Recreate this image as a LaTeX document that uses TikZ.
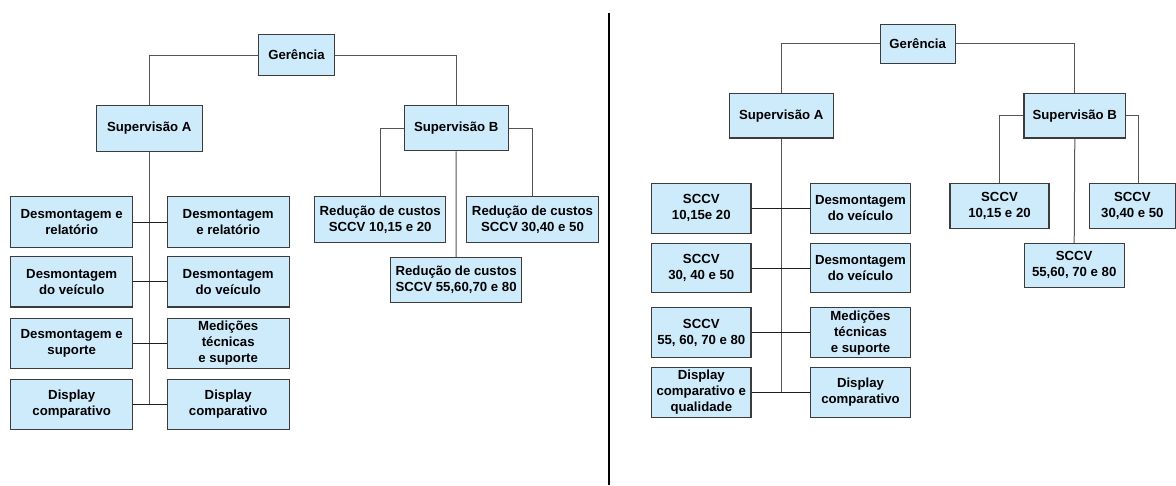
\documentclass[tikz,border=0pt]{standalone}
\usepackage{fontspec}
\setmainfont{Liberation Sans}
\definecolor{boxfill}{RGB}{206,235,251}
\definecolor{boxline}{RGB}{60,60,60}
\definecolor{treeline}{RGB}{85,85,85}
\definecolor{rowline}{RGB}{30,30,30}
\tikzset{
  orgbox/.style={draw=boxline, fill=boxfill, line width=1.1pt, inner sep=0pt,
    align=center, font=\fontsize{13.2}{16}\selectfont\bfseries},
  tree/.style={draw=treeline, line width=1pt},
  rowconn/.style={draw=rowline, line width=1pt},
  divider/.style={draw=black, line width=2pt}
}
\begin{document}
\begin{tikzpicture}[x=1pt, y=-1pt]
\useasboundingbox (0,0) rectangle (1176,485);

% ---------------- left chart ----------------
\node[orgbox, minimum width=75.6pt, minimum height=40.6pt] (gerL) at (296.5,55) {Gerência};
\node[orgbox, minimum width=106.3pt, minimum height=45.6pt] (supAL) at (149.2,128.5) {Supervisão A};
\node[orgbox, minimum width=104.3pt, minimum height=45.4pt] (supBL) at (456.2,128) {Supervisão B};

\node[orgbox, minimum width=121.7pt, minimum height=50.6pt] (l1) at (71.7,222) {Desmontagem e\\relatório};
\node[orgbox, minimum width=121.7pt, minimum height=50.6pt] (r1) at (228.2,222) {Desmontagem\\e relatório};
\node[orgbox, minimum width=121.7pt, minimum height=50.3pt] (l2) at (71.7,281.8) {Desmontagem\\do veículo};
\node[orgbox, minimum width=121.7pt, minimum height=50.3pt] (r2) at (228.2,281.8) {Desmontagem\\do veículo};
\node[orgbox, minimum width=121.7pt, minimum height=50.4pt] (l3) at (71.7,343.5) {Desmontagem e\\suporte};
\node[orgbox, minimum width=121.7pt, minimum height=50.4pt] (r3) at (228.2,343.5) {Medições\\técnicas\\e suporte};
\node[orgbox, minimum width=121.7pt, minimum height=50.3pt] (l4) at (71.7,404.2) {Display\\comparativo};
\node[orgbox, minimum width=121.7pt, minimum height=50.3pt] (r4) at (228.2,404.2) {Display\\comparativo};

\node[orgbox, minimum width=131pt, minimum height=45.6pt] (redL1) at (380.2,219.5) {Redução de custos\\SCCV 10,15 e 20};
\node[orgbox, minimum width=131.6pt, minimum height=45.6pt] (redL2) at (532.5,219.5) {Redução de custos\\SCCV 30,40 e 50};
\node[orgbox, minimum width=131.2pt, minimum height=45.2pt] (redL3) at (456.1,280.1) {Redução de custos\\SCCV 55,60,70 e 80};

\draw[tree] (gerL.west) -| (supAL.north);
\draw[tree] (gerL.east) -| (supBL.north);
\draw[tree] (supBL.west) -| (redL1.north);
\draw[tree] (supBL.east) -| (redL2.north);
\draw[tree] (supBL.south) -- (redL3.north);
\draw[tree] (supAL.south) -- (supAL.south |- l4.east);
\draw[rowconn] (l1.east) -- (r1.west);
\draw[rowconn] (l2.east) -- (r2.west);
\draw[rowconn] (l3.east) -- (r3.west);
\draw[rowconn] (l4.east) -- (r4.west);

% ---------------- divider ----------------
\draw[divider] (608.8,12.7) -- (608.8,485);

% ---------------- right chart ----------------
\node[orgbox, minimum width=74.7pt, minimum height=39.3pt] (gerR) at (917.7,43.7) {Gerência};
\node[orgbox, minimum width=104.3pt, minimum height=44.3pt] (supAR) at (781.2,115.8) {Supervisão A};
\node[orgbox, minimum width=101.7pt, minimum height=44.3pt] (supBR) at (1074.8,115.8) {Supervisão B};

\node[orgbox, minimum width=99.3pt, minimum height=49.7pt] (ml1) at (701.3,208.2) {SCCV\\10,15e 20};
\node[orgbox, minimum width=99.5pt, minimum height=49.7pt] (mr1) at (860.5,208.2) {Desmontagem\\do veículo};
\node[orgbox, minimum width=99.3pt, minimum height=49.4pt] (ml2) at (701.3,268) {SCCV\\30, 40 e 50};
\node[orgbox, minimum width=99.5pt, minimum height=49.4pt] (mr2) at (860.5,268) {Desmontagem\\do veículo};
\node[orgbox, minimum width=99.3pt, minimum height=50pt] (ml3) at (701.3,332.7) {SCCV\\55, 60, 70 e 80};
\node[orgbox, minimum width=99.5pt, minimum height=50pt] (mr3) at (860.5,332.7) {Medições\\técnicas\\e suporte};
\node[orgbox, minimum width=99.3pt, minimum height=50pt] (ml4) at (701.3,392.3) {Display\\comparativo e\\qualidade};
\node[orgbox, minimum width=99.5pt, minimum height=50pt] (mr4) at (860.5,392.3) {Display\\comparativo};

\node[orgbox, minimum width=99pt, minimum height=45pt] (sccvR1) at (999.5,205.8) {SCCV\\10,15 e 20};
\node[orgbox, minimum width=86pt, minimum height=45pt] (sccvR3) at (1132.4,205.8) {SCCV\\30,40 e 50};
\node[orgbox, minimum width=99.7pt, minimum height=44pt] (sccvR2) at (1074.2,265.3) {SCCV\\55,60, 70 e 80};

\draw[tree] (gerR.west) -| (supAR.north);
\draw[tree] (gerR.east) -| (supBR.north);
\draw[tree] (supBR.west) -| (sccvR1.north);
\draw[tree] (supBR.east) -| ([xshift=6.3pt]sccvR3.north);
\draw[tree] (supBR.south) -- (sccvR2.north);
\draw[tree] (supAR.south) -- (supAR.south |- ml4.east);
\draw[rowconn] (ml1.east) -- (mr1.west);
\draw[rowconn] (ml2.east) -- (mr2.west);
\draw[rowconn] (ml3.east) -- (mr3.west);
\draw[rowconn] (ml4.east) -- (mr4.west);
\end{tikzpicture}
\end{document}
